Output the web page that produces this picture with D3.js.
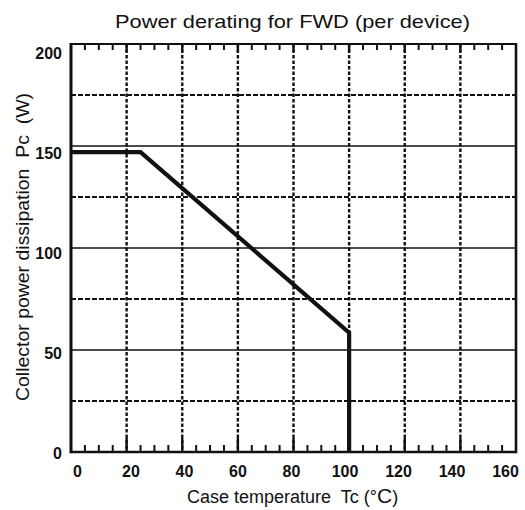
<!DOCTYPE html>
<html><head><meta charset="utf-8">
<script src="https://cdn.jsdelivr.net/npm/d3@7/dist/d3.min.js"></script>
<style>body{margin:0;background:#fff}svg{display:block}text{white-space:pre}</style>
</head><body>
<svg id="c" width="525" height="510"></svg>
<script>
const chartTitle = "Power derating for FWD (per device)";
const xTitle = "Case temperature  Tc (°";
const yTitle = "Collector power dissipation  Pc  (W)";
const xTicks = [0, 20, 40, 60, 80, 100, 120, 140, 160];
const yTicks = [0, 50, 100, 150, 200];
const ySolidGrid = [50, 100, 150];
const yDashedGrid = [25, 75, 125, 175];
const xGrid = [20, 40, 60, 80, 100, 120, 140];
const xMinorTicks = [5,10,15,25,30,35,45,50,55,65,70,75,85,90,95,105,110,115,125,130,135,145,150,155];
const caseTempC = [0, 25, 100, 100];
const powerW = [147, 147, 58.5, 0];

const svg = d3.select("#c");
const L = 71, R = 516, T = 44, B = 452;
const x = d3.scaleLinear().domain([0, 160]).range([L, R]);
const y = d3.scaleLinear().domain([0, 200]).range([B, T]);
const xl = d3.scaleLinear().domain([0, 160]).range([77, 505]);
const yl = d3.scaleLinear().domain([0, 200]).range([453, 53]);
const ink = "#111";

// grid
svg.append("g").selectAll("line").data(ySolidGrid).join("line")
  .attr("x1", L).attr("x2", R).attr("y1", d => y(d)).attr("y2", d => y(d))
  .attr("stroke", ink).attr("stroke-width", 1.6);
svg.append("g").selectAll("line").data(yDashedGrid).join("line")
  .attr("x1", L).attr("x2", R).attr("y1", d => y(d)).attr("y2", d => y(d))
  .attr("stroke", ink).attr("stroke-width", 1.8).attr("stroke-dasharray", "5,2");
svg.append("g").selectAll("line").data(xGrid).join("line")
  .attr("x1", d => x(d)).attr("x2", d => x(d)).attr("y1", T).attr("y2", B)
  .attr("stroke", ink).attr("stroke-width", 2.4).attr("stroke-dasharray", "3.5,2");

// major tick stubs (solid) at grid positions
svg.append("g").selectAll("line").data(xGrid).join("line")
  .attr("x1", d => x(d)).attr("x2", d => x(d)).attr("y1", B - 14).attr("y2", B)
  .attr("stroke", ink).attr("stroke-width", 2.4);
svg.append("g").selectAll("line").data(xGrid).join("line")
  .attr("x1", d => x(d)).attr("x2", d => x(d)).attr("y1", T).attr("y2", T + 8)
  .attr("stroke", ink).attr("stroke-width", 2.4);

// minor ticks
svg.append("g").selectAll("line").data(xMinorTicks).join("line")
  .attr("x1", d => x(d)).attr("x2", d => x(d)).attr("y1", B - 7).attr("y2", B)
  .attr("stroke", ink).attr("stroke-width", 2);
svg.append("g").selectAll("line").data(xMinorTicks).join("line")
  .attr("x1", d => x(d)).attr("x2", d => x(d)).attr("y1", T).attr("y2", T + 6)
  .attr("stroke", ink).attr("stroke-width", 2);

// frame
svg.append("line").attr("x1", L).attr("x2", R).attr("y1", T).attr("y2", T).attr("stroke", ink).attr("stroke-width", 2);
svg.append("line").attr("x1", L).attr("x2", R).attr("y1", B).attr("y2", B).attr("stroke", ink).attr("stroke-width", 2.6);
svg.append("line").attr("x1", L).attr("x2", L).attr("y1", T - 1).attr("y2", B + 1.3).attr("stroke", ink).attr("stroke-width", 3);
svg.append("line").attr("x1", R).attr("x2", R).attr("y1", T - 1).attr("y2", B + 1.3).attr("stroke", ink).attr("stroke-width", 2.6);

// curve
const line = d3.line().x((d, i) => x(caseTempC[i])).y((d, i) => y(powerW[i]));
svg.append("path").datum(caseTempC).attr("d", line)
  .attr("fill", "none").attr("stroke", ink).attr("stroke-width", 4.2).attr("stroke-linejoin", "miter");

// axes labels
const fontFam = "'Liberation Sans', Arial, Helvetica, sans-serif";
const gx = svg.append("g").attr("transform", "translate(0,465.5)")
  .call(d3.axisBottom(xl).tickValues(xTicks).tickSize(0).tickPadding(0));
gx.select(".domain").remove();
gx.selectAll("text").attr("font-family", fontFam).attr("font-size", 16).attr("font-weight", "bold").attr("fill", ink);

const gy = svg.append("g").attr("transform", "translate(62,0)")
  .call(d3.axisLeft(yl).tickValues(yTicks).tickSize(0).tickPadding(0));
gy.select(".domain").remove();
gy.selectAll("text").attr("font-family", fontFam).attr("font-size", 16).attr("font-weight", "bold").attr("fill", ink);

// titles
svg.append("text").attr("x", 292.5).attr("y", 28).attr("text-anchor", "middle")
  .attr("font-family", fontFam).attr("font-size", 19).attr("fill", ink)
  .attr("textLength", 355).attr("lengthAdjust", "spacingAndGlyphs").text(chartTitle);

const xt = svg.append("text").attr("x", 187).attr("y", 503)
  .attr("font-family", fontFam).attr("font-size", 18).attr("fill", ink).text(xTitle);
xt.append("tspan").attr("font-size", 21).text("C");
xt.append("tspan").text(")");

svg.append("text").attr("transform", "translate(28.5,247) rotate(-90)")
  .attr("text-anchor", "middle").attr("font-family", fontFam).attr("font-size", 18.5).attr("fill", ink)
  .attr("textLength", 308).attr("lengthAdjust", "spacingAndGlyphs").text(yTitle);
</script>
</body></html>
